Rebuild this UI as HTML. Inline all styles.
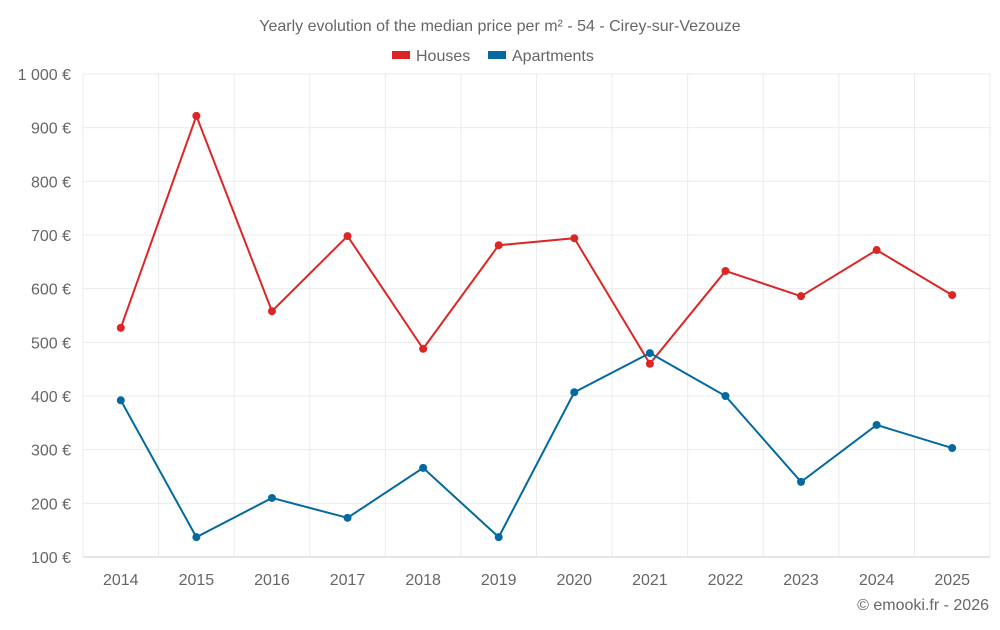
<!DOCTYPE html>
<html><head><meta charset="utf-8"><style>
body{margin:0;background:#fff;font-family:"Liberation Sans",Roboto,sans-serif;}
svg text{font-family:"Liberation Sans",sans-serif;fill:#666;}
</style></head><body>
<svg id="chart" width="1000" height="625">
<text x="500" y="31" text-anchor="middle" font-size="16">Yearly evolution of the median price per m² - 54 - Cirey-sur-Vezouze</text>
<g>
<g><rect x="392" y="51" width="18" height="8" fill="#dc2626"/><text x="416" y="61" font-size="16">Houses</text></g>
<g><rect x="488" y="51" width="18" height="8" fill="#0369a1"/><text x="512" y="61" font-size="16">Apartments</text></g>
</g>
<g id="grid"></g><g id="axes"></g><g id="series"></g>
<text x="989" y="610" text-anchor="end" font-size="16">© emooki.fr - 2026</text>
</svg>
<script>
const years=["2014","2015","2016","2017","2018","2019","2020","2021","2022","2023","2024","2025"];
const houses=[527,922,558,698,488,681,694,460,633,586,672,588];
const apartments=[392,137,210,173,266,137,407,480,400,240,346,303];
const yTicks=[100,200,300,400,500,600,700,800,900,1000];
const yLabels=["100 €","200 €","300 €","400 €","500 €","600 €","700 €","800 €","900 €","1 000 €"];
const NS="http://www.w3.org/2000/svg";
const L=83,R=990,T=74,B=557;
const step=(R-L)/years.length;
const xs=i=>L+step*(i+0.5);
const ys=v=>B-(v-100)/900*(B-T);
function mk(tag,at,parent){const e=document.createElementNS(NS,tag);for(const k in at)e.setAttribute(k,at[k]);document.getElementById(parent).appendChild(e);return e;}
yTicks.forEach((v,i)=>{
 const g=mk('line',{x1:L,x2:R,y1:ys(v),y2:ys(v),stroke:i==0?'#ccc':'#ebebeb'},'grid');
 
 
 const t=mk('text',{x:71,y:ys(v)+6,'text-anchor':'end','font-size':'16'},'axes');t.textContent=yLabels[i];
 
 
});
for(let i=0;i<=years.length;i++){
 const g=mk('line',{x1:L+step*i,x2:L+step*i,y1:T,y2:B+(i==0?0:0),stroke:'#ebebeb'},'grid');
 
 
}
years.forEach((y,i)=>{
 const t=mk('text',{x:xs(i),y:585,'text-anchor':'middle','font-size':'16'},'axes');t.textContent=y;
 
 
});
function series(vals,color,name){
 const p=mk('polyline',{points:vals.map((v,i)=>xs(i)+','+ys(v)).join(' '),fill:'none',stroke:color,'stroke-width':2},'series');
 
 
 vals.forEach((v,i)=>{
  const c=mk('circle',{cx:xs(i),cy:ys(v),r:4,fill:color},'series');
  
  
 });
}
series(houses,'#dc2626','houses');
series(apartments,'#0369a1','apartments');
</script>
</body></html>
